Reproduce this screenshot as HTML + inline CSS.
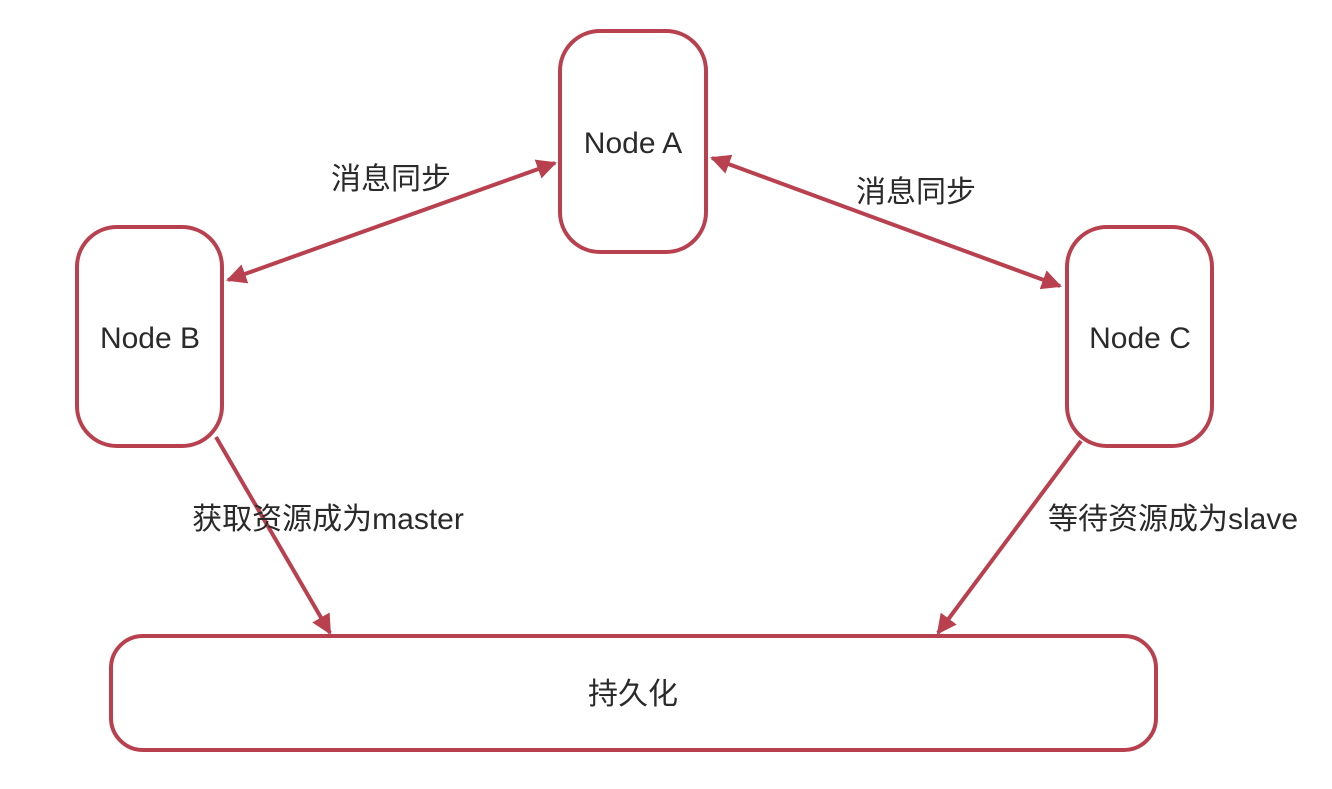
<!DOCTYPE html>
<html><head><meta charset="utf-8"><style>
html,body{margin:0;padding:0;background:#fff;width:1332px;height:789px;overflow:hidden}
text{font-family:"Liberation Sans","Noto Sans CJK SC",sans-serif;fill:#2a2a2a}
</style></head><body>
<svg width="1332" height="789" viewBox="0 0 1332 789" xmlns="http://www.w3.org/2000/svg">
<defs>
<marker id="ah" viewBox="0 0 10 10" refX="9" refY="5" markerWidth="5" markerHeight="5" orient="auto-start-reverse" markerUnits="strokeWidth">
<path d="M0,0 L10,5 L0,10 z" fill="#b9414f"/>
</marker>
</defs>
<g fill="#fff" stroke="#b9414f" stroke-width="4">
<rect x="560" y="31" width="146" height="221" rx="40"/>
<rect x="77" y="227" width="145" height="219" rx="40"/>
<rect x="1067" y="227" width="145" height="219" rx="40"/>
<rect x="111" y="636" width="1045" height="114" rx="32"/>
</g>
<g stroke="#b9414f" stroke-width="4" fill="none">
<line x1="555" y1="163" x2="228" y2="280" marker-start="url(#ah)" marker-end="url(#ah)"/>
<line x1="712" y1="158" x2="1060" y2="286" marker-start="url(#ah)" marker-end="url(#ah)"/>
<line x1="216" y1="437" x2="330" y2="633" marker-end="url(#ah)"/>
<line x1="1081" y1="441" x2="938" y2="633" marker-end="url(#ah)"/>
</g>
<g font-size="30" text-anchor="middle">
<text x="633" y="153">Node A</text>
<text x="150" y="348">Node B</text>
<text x="1140" y="348">Node C</text>
<text x="633" y="704">持久化</text>
<text x="391" y="189">消息同步</text>
<text x="916" y="202">消息同步</text>
<text x="328" y="529">获取资源成为master</text>
<text x="1173" y="529">等待资源成为slave</text>
</g>
</svg>
</body></html>
